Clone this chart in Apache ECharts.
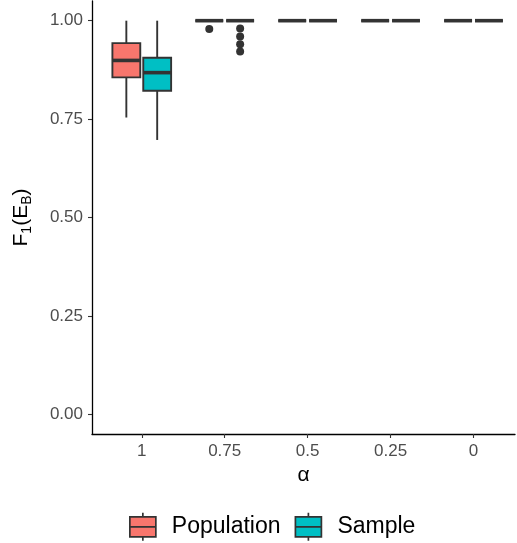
<!DOCTYPE html>
<html><head><meta charset="utf-8">
<script src="https://cdn.jsdelivr.net/npm/echarts@6/dist/echarts.min.js"></script>
<style>html,body{margin:0;padding:0;background:#fff}#c{width:517px;height:543px}</style>
</head><body><div id="c"></div>
<script>
// ---- data ----
const categories = ['1', '0.75', '0.5', '0.25', '0'];
const seriesNames = ['Population', 'Sample'];
// boxplot stats per category: [min, Q1, median, Q3, max]
const populationStats = [
  [0.754, 0.856, 0.899, 0.943, 1.000],
  [1, 1, 1, 1, 1],
  [1, 1, 1, 1, 1],
  [1, 1, 1, 1, 1],
  [1, 1, 1, 1, 1]
];
const sampleStats = [
  [0.697, 0.822, 0.868, 0.906, 1.000],
  [1, 1, 1, 1, 1],
  [1, 1, 1, 1, 1],
  [1, 1, 1, 1, 1],
  [1, 1, 1, 1, 1]
];
// outliers: [category index, value]
const populationOutliers = [[1, 0.979]];
const sampleOutliers = [[1, 0.980], [1, 0.960], [1, 0.940], [1, 0.922]];
const yTicks = [0, 0.25, 0.5, 0.75, 1];
const xTicks = [1, 2, 3, 4, 5];

// ---- style ----
const colors = ['#F8766D', '#00BFC4'];
const DODGE = 0.186;      // in category units
const BOX_HALF = 0.168;   // in category units
const FONT = 'Liberation Sans, Arial, sans-serif';

function makeRender(dodge) {
  return function (params, api) {
    const x = api.value(0) + 1 + dodge;
    const unit = api.size([1, 0])[0];
    const hw = unit * BOX_HALF;
    const cx = api.coord([x, api.value(1)])[0];
    const yMin = api.coord([x, api.value(1)])[1];
    const yQ1 = api.coord([x, api.value(2)])[1];
    const yMed = api.coord([x, api.value(3)])[1];
    const yQ3 = api.coord([x, api.value(4)])[1];
    const yMax = api.coord([x, api.value(5)])[1];
    const ln = { stroke: '#333333', lineWidth: 1.9 };
    return {
      type: 'group',
      children: [
        { type: 'line', shape: { x1: cx, y1: yMax, x2: cx, y2: yQ3 }, style: ln },
        { type: 'line', shape: { x1: cx, y1: yQ1, x2: cx, y2: yMin }, style: ln },
        { type: 'rect', shape: { x: cx - hw, y: yQ3, width: 2 * hw, height: yQ1 - yQ3 },
          style: { fill: api.visual('color'), stroke: '#333333', lineWidth: 1.9 } },
        { type: 'line', shape: { x1: cx - hw, y1: yMed, x2: cx + hw, y2: yMed },
          style: { stroke: '#333333', lineWidth: 3.6 } }
      ]
    };
  };
}

const legendIcon = 'path://M0,4L26,4L26,24L0,24Z M0,14L26,14 M13,0L13,4 M13,24L13,28';

const chart = echarts.init(document.getElementById('c'), null, { renderer: 'canvas' });
chart.setOption({
  animation: false,
  backgroundColor: '#ffffff',
  textStyle: { fontFamily: FONT },
  grid: { left: 91, top: 1, width: 424, height: 433, containLabel: false },
  xAxis: {
    type: 'value', min: 0.4, max: 5.5,
    splitLine: { show: false },
    axisLine: { show: true, onZero: false, lineStyle: { color: '#000', width: 1.3 } },
    axisTick: { show: true, customValues: xTicks, length: 4, lineStyle: { color: '#333', width: 1.1 } },
    axisLabel: { customValues: xTicks, formatter: v => categories[Math.round(v) - 1],
      fontSize: 17, color: '#4d4d4d', margin: 9, fontFamily: FONT },
    name: 'α', nameLocation: 'middle', nameGap: 27,
    nameTextStyle: { fontSize: 21, color: '#000', fontFamily: FONT }
  },
  yAxis: {
    type: 'value', min: -0.05, max: 1.05,
    splitLine: { show: false },
    axisLine: { show: true, onZero: false, lineStyle: { color: '#000', width: 1.3 } },
    axisTick: { show: true, customValues: yTicks, length: 4, lineStyle: { color: '#333', width: 1.1 } },
    axisLabel: { customValues: yTicks, formatter: v => v.toFixed(2),
      fontSize: 17, color: '#4d4d4d', margin: 9, fontFamily: FONT },
    name: 'F{sub|1}(E{sub|B})', nameLocation: 'middle', nameGap: 71,
    nameTextStyle: {
      fontSize: 21, color: '#000', fontFamily: FONT, lineHeight: 26, verticalAlign: 'middle',
      rich: { sub: { fontSize: 14, color: '#000', fontFamily: FONT, lineHeight: 16, verticalAlign: 'bottom' } }
    }
  },
  legend: {
    data: seriesNames.map(n => ({ name: n, icon: legendIcon })),
    left: 124, top: 507, itemWidth: 26, itemHeight: 28, itemGap: 14,
    itemStyle: { borderColor: '#333333', borderWidth: 1.7 },
    textStyle: { fontSize: 23, color: '#000', fontFamily: FONT, padding: [0, 0, 0, 11] }
  },
  series: [
    { name: seriesNames[0], type: 'custom', renderItem: makeRender(-DODGE),
      itemStyle: { color: colors[0] },
      encode: { x: 0, y: [1, 2, 3, 4, 5] },
      data: populationStats.map((s, i) => [i].concat(s)) },
    { name: seriesNames[1], type: 'custom', renderItem: makeRender(DODGE),
      itemStyle: { color: colors[1] },
      encode: { x: 0, y: [1, 2, 3, 4, 5] },
      data: sampleStats.map((s, i) => [i].concat(s)) },
    { name: 'populationOutliers', type: 'scatter', symbolSize: 8,
      itemStyle: { color: '#333333', opacity: 1 },
      data: populationOutliers.map(([i, v]) => [i + 1 - DODGE, v]) },
    { name: 'sampleOutliers', type: 'scatter', symbolSize: 8,
      itemStyle: { color: '#333333', opacity: 1 },
      data: sampleOutliers.map(([i, v]) => [i + 1 + DODGE, v]) }
  ]
});
</script></body></html>
